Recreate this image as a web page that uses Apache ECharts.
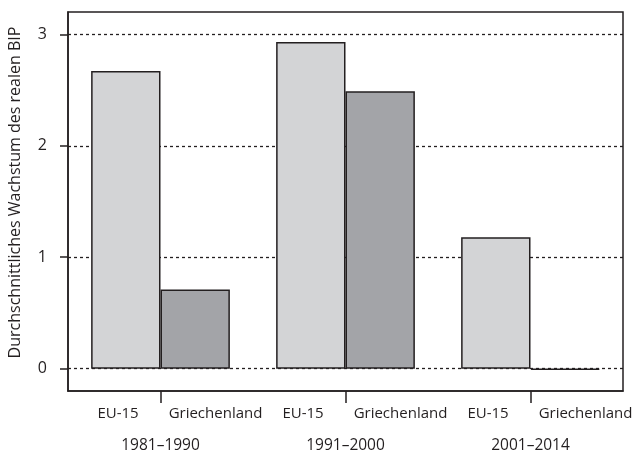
<!DOCTYPE html>
<html>
<head>
<meta charset="utf-8">
<script src="https://cdn.jsdelivr.net/npm/echarts@6/dist/echarts.min.js"></script>
<style>
  html, body { margin: 0; padding: 0; background: #fff; }
  #chart { width: 634px; height: 453px; }
</style>
</head>
<body>
<div id="chart"></div>
<script>
// Zeiträume und Werte (durchschnittliches reales BIP-Wachstum, %)
var periods = ["1981–1990", "1991–2000", "2001–2014"];
var seriesNames = ["EU-15", "Griechenland"];
var eu15 = [2.67, 2.93, 1.18];
var greece = [0.71, 2.49, -0.01];
var yTicks = [0, 1, 2, 3];

var ink = "#231f20";
var font = "Open Sans";

var chart = echarts.init(document.getElementById("chart"));

var option = {
  backgroundColor: "#fff",
  animation: false,
  textStyle: { fontFamily: font },
  grid: {
    left: 68,
    right: 11,
    top: 12,
    bottom: 62,
    outerBoundsMode: "none",
    containLabel: false,
    show: true,
    borderColor: ink,
    borderWidth: 1.5,
    backgroundColor: "transparent",
  },
  xAxis: {
    type: "category",
    data: periods,
    axisLine: { show: true, onZero: false, lineStyle: { color: ink, width: 1.5 } },
    axisTick: {
      show: true,
      alignWithLabel: true,
      interval: 0,
      length: 12,
      lineStyle: { color: ink, width: 1.5 },
    },
    splitLine: { show: false },
    axisLabel: {
      interval: 0,
      margin: 13,
      color: ink,
      // Gruppenbeschriftung: Ländernamen über dem Zeitraum
      formatter: function (val) {
        return (
          "{a|" + seriesNames[0] + "}{b|" + seriesNames[1] + "}\n{y|" + val + "}"
        );
      },
      rich: {
        a: { width: 110, align: "center", fontSize: 15, lineHeight: 20, color: ink, fontFamily: font },
        b: { width: 85, align: "center", fontSize: 15, lineHeight: 20, color: ink, fontFamily: font },
        y: { align: "center", fontSize: 15.5, lineHeight: 44, color: ink, fontFamily: font },
      },
    },
  },
  yAxis: {
    type: "value",
    min: -0.2,
    max: 3.2,
    name: "Durchschnittliches Wachstum des realen BIP",
    nameLocation: "middle",
    nameGap: 45,
    nameRotate: 90,
    nameTextStyle: { color: ink, fontSize: 16, fontFamily: font, padding: [0, 0, 0, 18] },
    axisLine: { show: true, lineStyle: { color: ink, width: 1.5 } },
    axisTick: {
      show: true,
      length: 8,
      customValues: yTicks,
      lineStyle: { color: ink, width: 1.5 },
    },
    axisLabel: {
      customValues: yTicks,
      margin: 21,
      color: ink,
      fontSize: 16,
    },
    splitLine: {
      show: true,
      lineStyle: { color: ink, type: [3, 3], width: 1.3 },
    },
  },
  series: [
    {
      name: seriesNames[0],
      type: "bar",
      data: eu15,
      barGap: "0%",
      barCategoryGap: "25%",
      itemStyle: { color: "#d3d4d6", borderColor: ink, borderWidth: 1.5 },
    },
    {
      name: seriesNames[1],
      type: "bar",
      data: greece,
      itemStyle: { color: "#a3a4a8", borderColor: ink, borderWidth: 1.5 },
    },
  ],
};

chart.setOption(option);
</script>
</body>
</html>
